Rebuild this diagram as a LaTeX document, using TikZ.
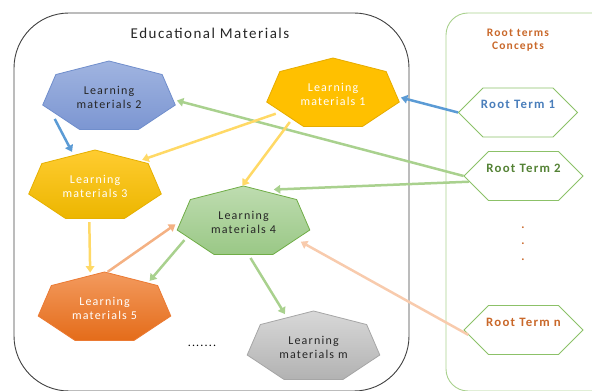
\documentclass[tikz,border=0pt]{standalone}
\usepackage{fontspec}
\setmainfont{Carlito}[LetterSpace=10]
\usetikzlibrary{shapes.misc,shapes.geometric,arrows.meta}
\definecolor{edgrey}{HTML}{404040}
\definecolor{titlegrey}{HTML}{262626}
\definecolor{boxgreen}{HTML}{A9D18E}
\definecolor{rootgreen}{HTML}{8CC168}
\definecolor{rootblue}{HTML}{4A7EBB}
\definecolor{rootdkgreen}{HTML}{548235}
\definecolor{rootorange}{HTML}{C9682A}
\definecolor{linkblue}{HTML}{5B9BD5}
\definecolor{linkgreen}{HTML}{A9D18E}
\definecolor{linkyellow}{HTML}{FFD966}
\definecolor{linkpeach}{HTML}{F4B183}
\definecolor{linklightpeach}{HTML}{F8CBAD}
\newcommand{\lmHept}[3]{\path[#3, line width=0.8pt, shift={(#1,#2)}] (90:68 and 36) \foreach \k in {1,...,6}{ -- (90+\k*51.4286:68 and 36)} -- cycle;}

\begin{document}
\begin{tikzpicture}[x=1pt,y=1pt,
    lmtext/.style={ellipse, minimum width=136pt, minimum height=72pt, inner sep=0pt, align=center, font=\fontsize{12}{14}\selectfont},
    rootterm/.style={chamfered rectangle, chamfered rectangle xsep=15pt, chamfered rectangle ysep=12pt, draw=rootgreen, line width=0.8pt, minimum width=119pt, minimum height=48pt, inner sep=0pt, text height=9pt, text depth=16pt, font=\fontsize{12.8}{14}\selectfont\bfseries},
    lmlink/.style={line width=2.5pt, -{Triangle[length=6.5pt,width=8.5pt]}}]
    \useasboundingbox (0,0) rectangle (592,391);
    % boxes
    \draw[edgrey, line width=0.9pt, rounded corners=55pt] (14,378) rectangle (409,0);
    \draw[boxgreen, line width=0.9pt, rounded corners=22pt] (446,378) rectangle (620,0);
    \node[font=\fontsize{15}{18}\selectfont, text=titlegrey] (edutitle) at (210,358) {Educational Materials};
    \node[align=center, font=\fontsize{11.5}{13}\selectfont\bfseries, text=rootorange] (roottitle) at (518,350.5) {Root terms\\Concepts};
    % learning materials
    \lmHept{333}{297}{fill={rgb,255:red,255;green,192;blue,0}, draw={rgb,255:red,230;green,172;blue,0}}
    \lmHept{109}{294}{top color={rgb,255:red,160;green,180;blue,224}, bottom color={rgb,255:red,124;green,150;blue,210}, draw={rgb,255:red,112;green,142;blue,204}}
    \lmHept{95}{205}{top color={rgb,255:red,255;green,204;blue,48}, bottom color={rgb,255:red,236;green,182;blue,0}, draw={rgb,255:red,230;green,176;blue,0}}
    \lmHept{243.5}{169}{top color={rgb,255:red,190;green,220;blue,176}, bottom color={rgb,255:red,154;green,200;blue,134}, draw={rgb,255:red,112;green,173;blue,71}}
    \lmHept{104.5}{83}{top color={rgb,255:red,243;green,154;blue,94}, bottom color={rgb,255:red,228;green,108;blue,26}, draw={rgb,255:red,235;green,122;blue,51}}
    \lmHept{313.5}{44}{top color={rgb,255:red,216;green,216;blue,216}, bottom color={rgb,255:red,178;green,178;blue,178}, draw={rgb,255:red,166;green,166;blue,166}}
    \node[lmtext, text=white] (lm1) at (333,297) {Learning\\materials 1};
    \node[lmtext, text=titlegrey] (lm2) at (109,294) {Learning\\materials 2};
    \node[lmtext, text=white] (lm3) at (95,205) {Learning\\materials 3};
    \node[lmtext, text=titlegrey] (lm4) at (243.5,169) {Learning\\materials 4};
    \node[lmtext, text=white] (lm5) at (104.5,83) {Learning\\materials 5};
    \node[lmtext, text=titlegrey] (lmm) at (313.5,44) {Learning\\materials m};
    \node[anchor=base, font=\fontsize{12}{14}\selectfont] (lmdots) at (202,44) {.......};
    % root terms
    \node[rootterm, text=rootblue] (rt1) at (518,278.5) {Root Term 1};
    \node[rootterm, text=rootdkgreen] (rt2) at (523.5,215) {Root Term 2};
    \node[rootterm, text=rootorange] (rtn) at (523.5,61) {Root Term n};
    \node[align=center, text=rootorange, font=\fontsize{12}{16}\selectfont\bfseries] (rtdots) at (523,147) {.\\.\\.};
    % links
    \draw[lmlink, linkblue] (rt1.west) -- (lm1.-3);
    \draw[lmlink, linkblue] (lm2.202) -- (lm3.124);
    \draw[lmlink, linkgreen] (rt2.west) -- (lm2.-3);
    \draw[lmlink, linkgreen] (rt2.186) -- (lm4.47);
    \draw[lmlink, linkyellow] (lm1.199) -- (lm3.29);
    \draw[lmlink, linkyellow] (lm1.213) -- (lm4.92);
    \draw[lmlink, linkyellow] (lm3.261) -- (lm5.112);
    \draw[lmlink, linkpeach] (lm5.85) -- (lm4.182);
    \draw[lmlink, linkgreen] (lm4.197) -- (lm5.31);
    \draw[lmlink, linkgreen] (lm4.281) -- (lmm.131);
    \draw[lmlink, linklightpeach] (rtn.185) -- (lm4.341);
\end{tikzpicture}
\end{document}
